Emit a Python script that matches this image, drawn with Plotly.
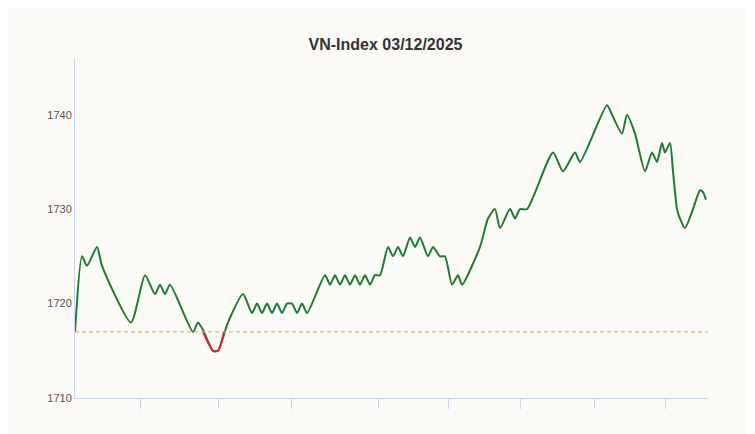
import plotly.graph_objects as go

# x = intraday time step, y = index level
t = [75, 82, 87, 97, 102, 131, 145, 155, 160, 165, 170, 193, 198, 203, 213, 218, 228, 243,
     252, 257, 262, 267, 272, 277, 282, 287, 292, 297, 302, 307, 325, 330, 335, 340, 345,
     350, 355, 360, 365, 370, 375, 380, 388, 393, 398, 403, 410, 415, 420, 428, 433, 440,
     445, 452, 458, 462, 480, 488, 495, 500, 510, 515, 520, 527, 553, 563, 575, 580, 607,
     612, 622, 627, 635, 645, 652, 657, 662, 665, 670, 673, 677, 680, 685, 693, 700, 703, 706]
vni = [1717, 1725, 1724, 1726, 1724, 1718, 1723, 1721, 1722, 1721, 1722, 1717, 1718, 1717.2,
       1715, 1715, 1718, 1721, 1719, 1720, 1719, 1720, 1719, 1720, 1719, 1720, 1720, 1719,
       1720, 1719, 1723, 1722, 1723, 1722, 1723, 1722, 1723, 1722, 1723, 1722, 1723, 1723,
       1726, 1725, 1726, 1725, 1727, 1726, 1727, 1725, 1726, 1725, 1725, 1722, 1723, 1722,
       1726, 1729, 1730, 1728, 1730, 1729, 1730, 1730, 1736, 1734, 1736, 1735, 1741, 1740,
       1738, 1740, 1738, 1734, 1736, 1735, 1737, 1736, 1737, 1734, 1730, 1729, 1728, 1730,
       1732, 1731.8, 1731]
ref_level = 1717
red_t = [203, 213, 218, 224]
red_v = [1717.0, 1715, 1715, 1717.0]
tick_pos = [140, 218, 291, 378, 448, 520, 594, 665]

fig = go.Figure()
fig.add_trace(go.Scatter(x=t, y=vni, mode="lines",
                         line=dict(color="#1e7b34", width=2, shape="spline", smoothing=0.6)))
fig.add_trace(go.Scatter(x=red_t, y=red_v, mode="lines",
                         line=dict(color="#d7263d", width=2, shape="spline", smoothing=0.6)))
fig.add_hline(y=ref_level, line=dict(color="#d9a441", width=1, dash="4px,3px"))

fig.update_layout(
    width=755, height=434,
    margin=dict(l=67, r=55, t=50, b=44),
    paper_bgcolor="#fbfaf7", plot_bgcolor="#fbfaf7",
    showlegend=False,
    title=dict(text="<b>VN-Index 03/12/2025</b>", x=0.5, y=0.93, xanchor="center",
               font=dict(family="Arial", size=16, color="#333")),
)
fig.update_xaxes(range=[75, 708], showgrid=False, zeroline=False, showline=True,
                 linecolor="#ccd6eb", tickmode="array", tickvals=tick_pos,
                 ticktext=[""] * len(tick_pos), ticks="outside", ticklen=10,
                 tickcolor="#ccd6eb")
fig.update_yaxes(range=[1710, 1746], showgrid=False, zeroline=False, showline=True,
                 linecolor="#ccd6eb", tickvals=[1710, 1720, 1730, 1740],
                 tickfont=dict(family="Arial", size=11, color="#555"), ticks="")

fig.write_html("out.html")
